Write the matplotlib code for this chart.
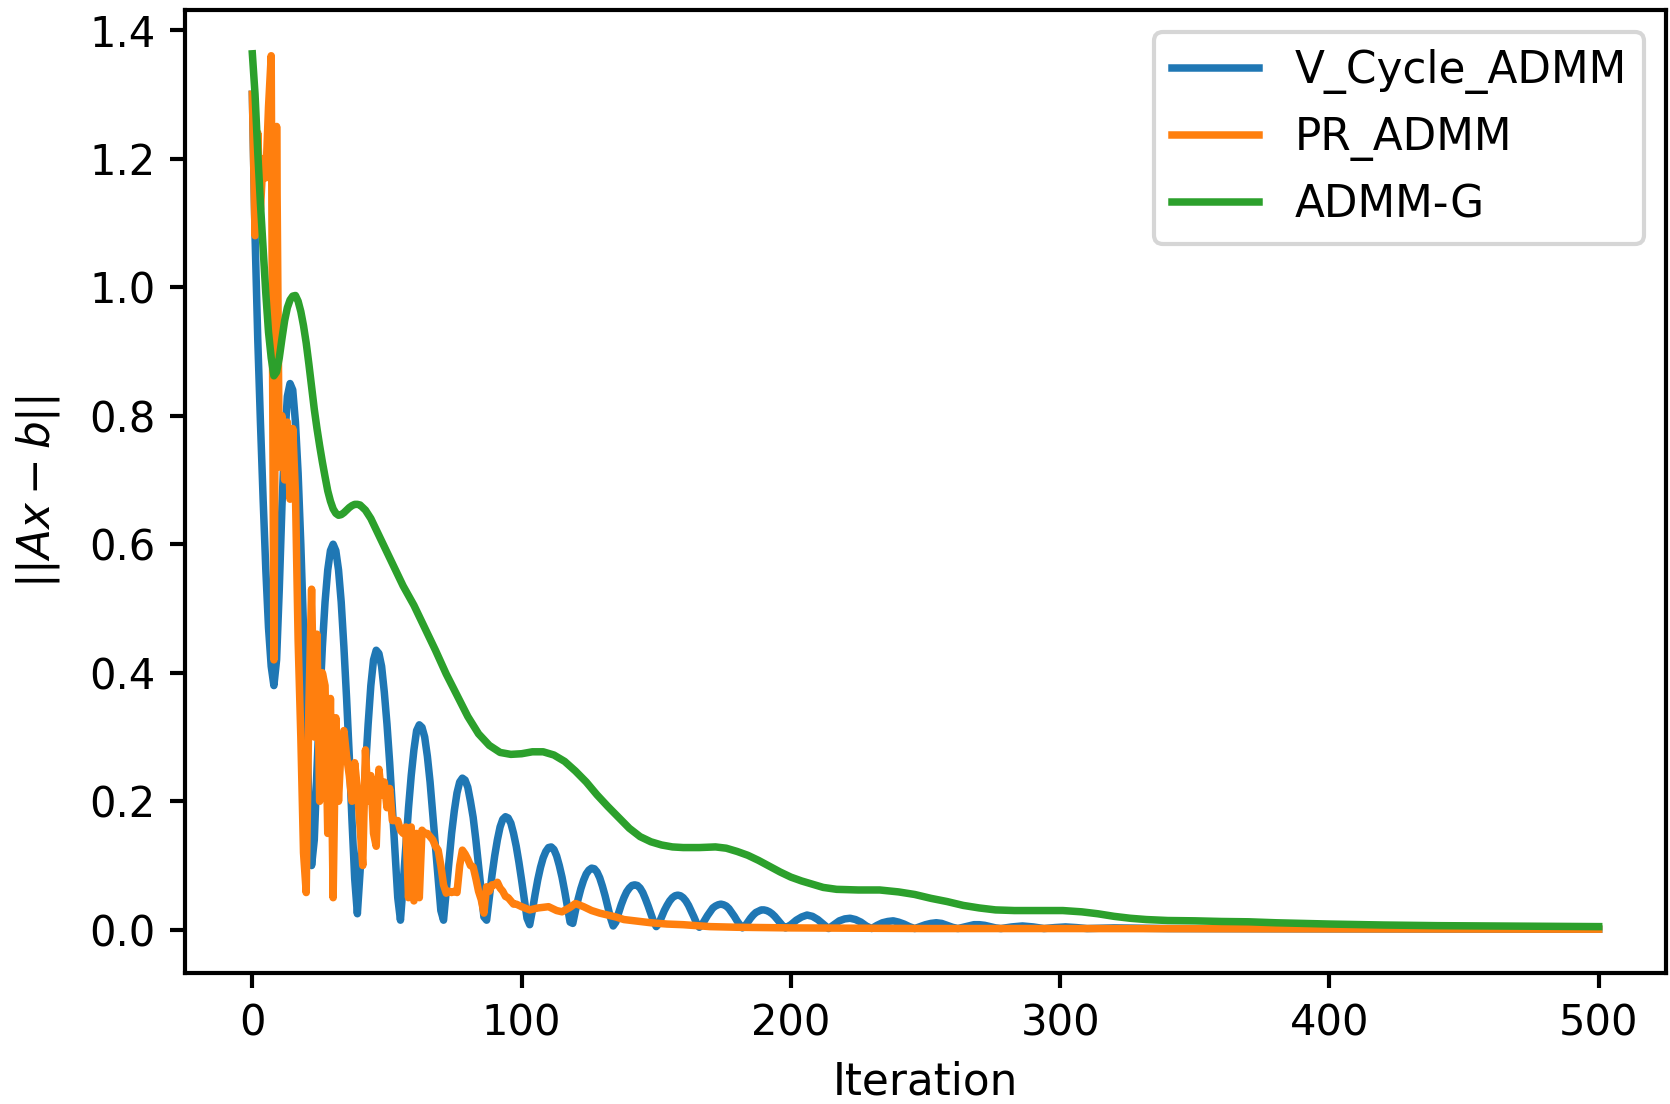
import matplotlib
matplotlib.use("Agg")
import matplotlib.pyplot as plt

# ---- V_Cycle_ADMM (one value per iteration up to 198) ----
vc_iter = list(range(0, 199)) + [200, 202, 204, 206, 208, 210, 212, 214, 216, 218,
                                 220, 222, 224, 226, 228, 230, 232, 234, 236, 238,
                                 240, 242, 244, 246, 248, 250, 252, 254, 256, 258,
                                 260, 262, 264, 266, 268, 270, 272, 274, 276, 278,
                                 282, 286, 290, 294, 298, 302, 306, 310, 320, 340,
                                 400, 500]
vc_res = [1.30, 1.08, 0.92, 0.79, 0.67, 0.56, 0.47, 0.41, 0.38, 0.42,
          0.53, 0.66, 0.76, 0.83, 0.85, 0.84, 0.79, 0.71, 0.60, 0.47,
          0.33, 0.20, 0.10, 0.14, 0.25, 0.35, 0.44, 0.51, 0.56, 0.59,
          0.60, 0.59, 0.56, 0.51, 0.44, 0.36, 0.27, 0.17, 0.08, 0.025,
          0.09, 0.17, 0.25, 0.32, 0.38, 0.42, 0.435, 0.43, 0.41, 0.37,
          0.32, 0.26, 0.19, 0.12, 0.05, 0.015, 0.07, 0.13, 0.19, 0.24,
          0.28, 0.31, 0.319, 0.315, 0.30, 0.27, 0.23, 0.18, 0.13, 0.08,
          0.03, 0.015, 0.06, 0.105, 0.15, 0.185, 0.213, 0.23, 0.236, 0.233,
          0.222, 0.20, 0.175, 0.14, 0.10, 0.06, 0.02, 0.015, 0.05, 0.085,
          0.115, 0.14, 0.16, 0.172, 0.176, 0.174, 0.166, 0.15, 0.13, 0.105,
          0.077, 0.047, 0.018, 0.008, 0.03, 0.055, 0.078, 0.097, 0.112, 0.122,
          0.128, 0.129, 0.125, 0.115, 0.10, 0.082, 0.06, 0.036, 0.012, 0.01,
          0.03, 0.048, 0.064, 0.077, 0.087, 0.093, 0.096, 0.095, 0.09, 0.081,
          0.068, 0.053, 0.036, 0.019, 0.006, 0.012, 0.026, 0.039, 0.05, 0.059,
          0.065, 0.069, 0.07, 0.069, 0.065, 0.058, 0.048, 0.037, 0.025, 0.013,
          0.005, 0.01, 0.02, 0.03, 0.038, 0.045, 0.05, 0.053, 0.054, 0.053,
          0.05, 0.045, 0.038, 0.029, 0.02, 0.01, 0.004, 0.008, 0.015, 0.022,
          0.028, 0.034, 0.037, 0.039, 0.04, 0.039, 0.037, 0.033, 0.027, 0.021,
          0.014, 0.008, 0.003, 0.006, 0.012, 0.018, 0.023, 0.027, 0.029, 0.031,
          0.031, 0.03, 0.028, 0.025, 0.021, 0.016, 0.011, 0.006, 0.003,
          0.008, 0.015, 0.02, 0.023, 0.021, 0.016, 0.009, 0.002, 0.008, 0.014,
          0.017, 0.018, 0.016, 0.012, 0.006, 0.002, 0.007, 0.011, 0.013, 0.014,
          0.012, 0.009, 0.005, 0.002, 0.005, 0.008, 0.010, 0.011, 0.010, 0.007,
          0.004, 0.002, 0.004, 0.006, 0.008, 0.008, 0.007, 0.005, 0.003, 0.002,
          0.0045, 0.006, 0.0045, 0.002, 0.0035, 0.0045, 0.0035, 0.002, 0.003, 0.002,
          0.0015, 0.001]

# ---- PR_ADMM (noisy, read iteration by iteration in the first 100) ----
pr_iter = list(range(0, 101)) + [103, 106, 110, 113, 115, 118, 120, 123, 126, 129,
                                 132, 135, 138, 142, 148, 154, 160, 170, 180, 200,
                                 250, 300, 400, 500]
pr_res = [1.30, 1.08, 1.24, 1.12, 1.20, 1.17, 1.28, 1.36, 0.42, 1.25,
          0.72, 0.80, 0.70, 0.79, 0.67, 0.78, 0.68, 0.45, 0.30, 0.12,
          0.058, 0.35, 0.53, 0.30, 0.46, 0.20, 0.40, 0.38, 0.15, 0.36,
          0.05, 0.33, 0.20, 0.29, 0.31, 0.27, 0.24, 0.20, 0.26, 0.22,
          0.16, 0.10, 0.28, 0.20, 0.24, 0.15, 0.13, 0.25, 0.21, 0.23,
          0.19, 0.22, 0.17, 0.17, 0.17, 0.155, 0.15, 0.16, 0.05, 0.16,
          0.045, 0.15, 0.05, 0.155, 0.15, 0.15, 0.145, 0.14, 0.13, 0.124,
          0.10, 0.07, 0.057, 0.06, 0.058, 0.06, 0.058, 0.10, 0.124, 0.118,
          0.11, 0.10, 0.098, 0.08, 0.06, 0.047, 0.026, 0.067, 0.06, 0.07,
          0.07, 0.074, 0.065, 0.06, 0.052, 0.05, 0.045, 0.04, 0.04, 0.038,
          0.036,
          0.031, 0.034, 0.036, 0.03, 0.028, 0.035, 0.041, 0.036, 0.03, 0.026,
          0.023, 0.02, 0.016, 0.014, 0.011, 0.009, 0.008, 0.005, 0.004, 0.003,
          0.002, 0.002, 0.0015, 0.001]

# ---- ADMM-G (smooth) ----
g_iter = list(range(0, 41)) + [42, 44, 48, 52, 56, 60, 64, 68, 72, 76, 80, 84, 88,
                               92, 96, 100, 104, 108, 112, 116, 120, 124, 128, 132,
                               136, 140, 144, 148, 152, 156, 160, 166, 172, 176,
                               180, 184, 188, 192, 196, 200, 204, 208, 212, 217,
                               225, 233, 240, 246, 252, 258, 264, 270, 276, 283,
                               292, 301, 308, 314, 320, 326, 332, 340, 350, 360,
                               370, 380, 390, 400, 420, 440, 460, 480, 500]
g_res = [1.363, 1.30, 1.21, 1.13, 1.06, 0.99, 0.93, 0.89, 0.862, 0.868,
         0.89, 0.92, 0.948, 0.968, 0.98, 0.986, 0.987, 0.978, 0.962, 0.94,
         0.913, 0.88, 0.845, 0.81, 0.78, 0.753, 0.728, 0.705, 0.683, 0.667,
         0.655, 0.648, 0.645, 0.646, 0.649, 0.653, 0.657, 0.66, 0.662, 0.662,
         0.661,
         0.653, 0.64, 0.605, 0.57, 0.535, 0.505, 0.47, 0.435, 0.398, 0.365,
         0.332, 0.305, 0.287, 0.276, 0.273, 0.274,
         0.277, 0.277, 0.272, 0.262, 0.247, 0.23, 0.21, 0.192, 0.175, 0.158,
         0.145, 0.137, 0.132,
         0.129, 0.128, 0.128, 0.129, 0.127, 0.122, 0.116, 0.108, 0.099, 0.09,
         0.082, 0.076, 0.071,
         0.066, 0.063, 0.062, 0.062, 0.059, 0.055, 0.049, 0.044, 0.038, 0.034,
         0.031, 0.030, 0.030,
         0.030, 0.028, 0.025, 0.021, 0.018, 0.016, 0.0145, 0.014, 0.013, 0.0125,
         0.011, 0.010, 0.009,
         0.0075, 0.0065, 0.006, 0.0055, 0.005]

plt.rcParams['axes.linewidth'] = 1.0
plt.rcParams['xtick.major.width'] = 1.0
plt.rcParams['ytick.major.width'] = 1.0

fig = plt.figure(figsize=(1670 / 300, 1104 / 300), dpi=300)
ax = fig.add_axes([0.1108, 0.1187, 0.8868, 0.8722])

ax.plot(vc_iter, vc_res, lw=1.8, label='V_Cycle_ADMM')
ax.plot(pr_iter, pr_res, lw=1.8, label='PR_ADMM')
ax.plot(g_iter, g_res, lw=1.8, label='ADMM-G')

ax.set_xlabel('Iteration', fontsize=10.5)
ax.set_ylabel(r'$||Ax-b||$', fontsize=10.5, labelpad=6.5)
ax.tick_params(labelsize=10)
ax.legend(loc='upper right', fontsize=10.5)

fig.savefig('out.png', dpi=300)
